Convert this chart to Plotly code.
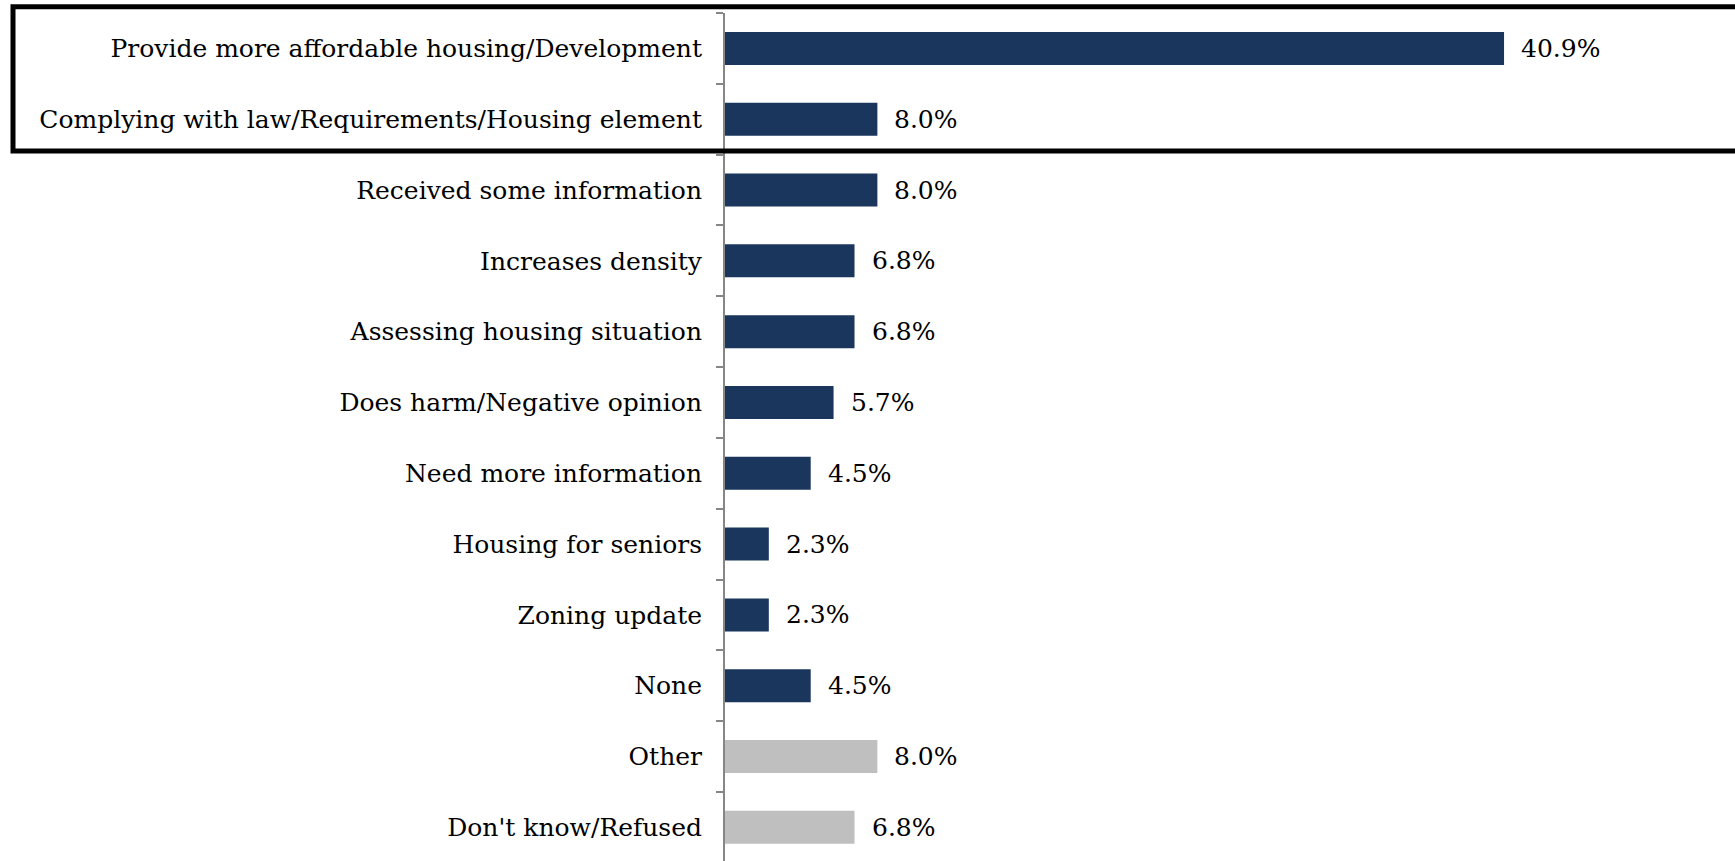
import plotly.graph_objects as go

categories = [
    "Provide more affordable housing/Development",
    "Complying with law/Requirements/Housing element",
    "Received some information",
    "Increases density",
    "Assessing housing situation",
    "Does harm/Negative opinion",
    "Need more information",
    "Housing for seniors",
    "Zoning update",
    "None",
    "Other",
    "Don't know/Refused",
]
values = [40.9, 8.0, 8.0, 6.8, 6.8, 5.7, 4.5, 2.3, 2.3, 4.5, 8.0, 6.8]
value_labels = ["40.9%", "8.0%", "8.0%", "6.8%", "6.8%", "5.7%", "4.5%", "2.3%", "2.3%", "4.5%", "8.0%", "6.8%"]
bar_groups = ["main"] * 10 + ["other"] * 2

NAVY = "#1A365D"
GREY = "#BFBFBF"
FONT = "DejaVu Serif"

colors = [NAVY if g == "main" else GREY for g in bar_groups]

W, H = 1735, 861
ML, MR, MT, MB = 725, 10, 13, 0

fig = go.Figure(
    go.Bar(
        x=values,
        y=categories,
        orientation="h",
        marker=dict(color=colors, line=dict(width=0)),
        hoverinfo="skip",
    )
)

for v, c, lab in zip(values, categories, value_labels):
    fig.add_annotation(
        x=v, y=c, text=lab, showarrow=False, xanchor="left", yanchor="middle",
        xshift=15, font=dict(family=FONT, size=25, color="black"),
    )

# highlight rectangle around first two categories (pixel positions -> paper)
plot_h = H - MT - MB
plot_w = W - ML - MR
def px_to_paper_y(py):
    return (H - MB - py) / plot_h
def px_to_paper_x(px):
    return (px - ML) / plot_w

fig.add_shape(
    type="rect", xref="paper", yref="paper",
    x0=px_to_paper_x(13), x1=px_to_paper_x(1760),
    y0=px_to_paper_y(151), y1=px_to_paper_y(6.8),
    line=dict(color="black", width=5), fillcolor="rgba(0,0,0,0)", layer="above",
)

fig.update_layout(
    width=W, height=H,
    margin=dict(l=ML, r=MR, t=MT, b=MB, pad=0),
    plot_bgcolor="white", paper_bgcolor="white",
    bargap=0.534,
    showlegend=False,
    font=dict(family=FONT, size=25, color="black"),
)
fig.update_xaxes(
    range=[0, 52.5], showgrid=False, zeroline=False, showticklabels=False,
    showline=False, ticks="",
)
fig.update_yaxes(
    type="category", categoryorder="array", categoryarray=categories,
    range=[11.475, -0.5], showgrid=False, zeroline=False,
    showline=True, linecolor="#868686", linewidth=2,
    ticks="outside", ticklen=7, tickwidth=2, tickcolor="#868686",
    tickson="boundaries", ticklabelstandoff=16,
    tickfont=dict(family=FONT, size=25, color="black"),
)

fig.write_html(
    "out.html",
    config={"displayModeBar": False},
    post_script="document.body.style.margin='0';document.body.style.overflow='hidden';",
)
